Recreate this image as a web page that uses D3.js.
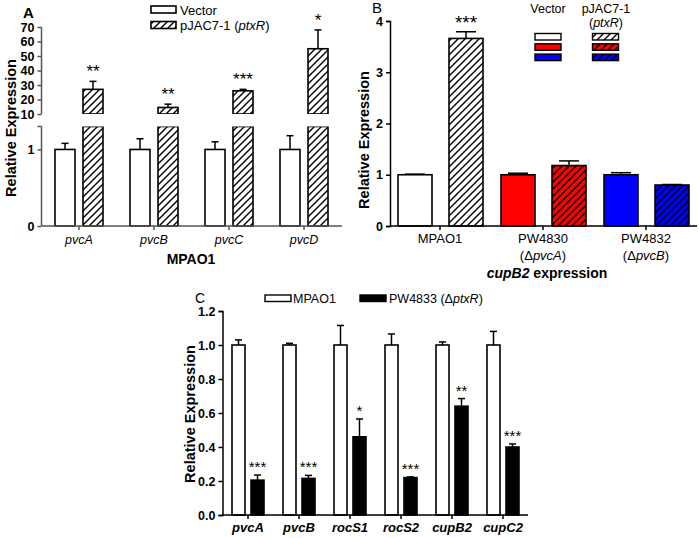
<!DOCTYPE html>
<html><head><meta charset="utf-8">
<script src="https://cdn.jsdelivr.net/npm/d3@7"></script>
<style>
body{margin:0;background:#fff;}
svg{display:block;font-family:"Liberation Sans",Arial,sans-serif;}
.tick text{font-weight:bold;font-size:12.5px;fill:#000;}
</style></head>
<body><svg id="c" width="699" height="538"></svg>
<script>
// ---------- Panel A data ----------
const catsA = ["pvcA","pvcB","pvcC","pvcD"];
const vectorA = [1,1,1,1];
const vectorErrA = [0.08,0.14,0.1,0.18];
const ptxRA = [27,14.5,26,55];
const ptxRErrA = [5.5,2.3,1,13];
const starsA = ["**","**","***","*"];
const ticksALow = [0,1];
const ticksAHigh = [10,20,30,40,50,60,70];
// ---------- Panel B data ----------
const catsB = ["MPAO1","PW4830","PW4832"];
const subB = ["","\u0394pvcA","\u0394pvcB"];
const vectorB = [1,1,1];
const vectorErrB = [0.012,0.03,0.04];
const ptxRB = [3.66,1.18,0.8];
const ptxRErrB = [0.13,0.09,0.01];
const starsB = ["***","",""];
const colorsB = ["#ffffff","#ff0000","#0000ff"];
const ticksB = [0,1,2,3,4];
// ---------- Panel C data ----------
const catsC = ["pvcA","pvcB","rocS1","rocS2","cupB2","cupC2"];
const mpaoC = [1,1,1,1,1,1];
const mpaoErrC = [0.03,0.01,0.115,0.065,0.018,0.08];
const ptxC = [0.205,0.215,0.46,0.22,0.64,0.40];
const ptxErrC = [0.03,0.018,0.105,0.004,0.045,0.018];
const starsC = ["***","***","*","***","**","***"];
const ticksC = [0,0.2,0.4,0.6,0.8,1.0,1.2];

const svg = d3.select("#c");
const defs = svg.append("defs");
function hatch(id, bg){
  const p = defs.append("pattern").attr("id",id).attr("patternUnits","userSpaceOnUse")
    .attr("width",7).attr("height",7);
  p.append("rect").attr("width",7).attr("height",7).attr("fill",bg);
  p.append("path").attr("d","M-1,1 L1,-1 M0,7 L7,0 M6,8 L8,6").attr("stroke","#000").attr("stroke-width",1.4);
}
hatch("hw","#fff"); hatch("h0","#ffffff"); hatch("h1","#ff0000"); hatch("h2","#0000ff");

function errBar(g, cx, y0, y1, cap, col){
  col = col||"#000";
  g.append("line").attr("x1",cx).attr("x2",cx).attr("y1",y0).attr("y2",y1).attr("stroke",col).attr("stroke-width",1.5);
  g.append("line").attr("x1",cx-cap/2).attr("x2",cx+cap/2).attr("y1",y1).attr("y2",y1).attr("stroke",col).attr("stroke-width",1.5);
}
function styleAxis(g,col){
  g.selectAll("path.domain").attr("stroke",col).attr("stroke-width",1.5);
  g.selectAll(".tick line").attr("stroke",col).attr("stroke-width",1.5);
}

// ================= PANEL A =================
(function(){
  const g = svg.append("g");
  const x = d3.scaleBand().domain(catsA).range([41.5,341.5]);
  const yL = d3.scaleLinear().domain([0,1.3]).range([226,126.5]);
  const yH = d3.scaleLinear().domain([10,70]).range([114,27]);
  const axCol = "#555";
  const bw = 20;
  catsA.forEach((c,i)=>{
    const cx = x(c)+x.bandwidth()/2;
    const vx = cx-24;
    errBar(g, vx+bw/2, yL(vectorA[i]), yL(vectorA[i]+vectorErrA[i]), 7);
    g.append("rect").attr("x",vx).attr("y",yL(vectorA[i])).attr("width",bw).attr("height",yL(0)-yL(vectorA[i]))
      .attr("fill","#fff").attr("stroke","#000").attr("stroke-width",1.6);
    const hx = cx+4;
    g.append("rect").attr("x",hx).attr("y",yL(1.3)).attr("width",bw).attr("height",yL(0)-yL(1.3))
      .attr("fill","url(#hw)").attr("stroke","#000").attr("stroke-width",1.6);
    errBar(g, hx+bw/2, yH(ptxRA[i]), yH(ptxRA[i]+ptxRErrA[i]), 7);
    g.append("rect").attr("x",hx).attr("y",yH(ptxRA[i])).attr("width",bw).attr("height",yH(10)-yH(ptxRA[i]))
      .attr("fill","url(#hw)").attr("stroke","#000").attr("stroke-width",1.6);
    g.append("rect").attr("x",hx-1).attr("y",yH(10)).attr("width",bw+2).attr("height",yL(1.3)-yH(10)).attr("fill","#fff");
    g.append("text").attr("x",hx+bw/2).attr("y",yH(ptxRA[i]+ptxRErrA[i])-4).attr("text-anchor","middle")
      .attr("font-size",17).text(starsA[i]);
    g.append("text").attr("x",cx).attr("y",244).attr("text-anchor","middle").attr("font-size",12.5)
      .attr("font-style","italic").text(c);
  });
  const axL = g.append("g").attr("transform","translate(41.5,0)").call(d3.axisLeft(yL).tickValues(ticksALow).tickSize(4).tickFormat(d3.format("d")));
  styleAxis(axL,axCol);
  axL.append("line").attr("x1",-4).attr("x2",0).attr("y1",yL(1.3)).attr("y2",yL(1.3)).attr("stroke",axCol).attr("stroke-width",1.5);
  axL.select("path.domain").attr("d",`M0,${yL(1.3)}V${yL(0)}`);
  const axH = g.append("g").attr("transform","translate(41.5,0)").call(d3.axisLeft(yH).tickValues(ticksAHigh).tickSize(4));
  styleAxis(axH,axCol);
  axH.select("path.domain").attr("d",`M0,${yH(70)}V${yH(10)}`);
  const axX = g.append("g").attr("transform","translate(0,226)").call(d3.axisBottom(x).tickSize(4).tickFormat(""));
  styleAxis(axX,axCol);
  axX.select("path.domain").attr("d","M41.5,0H342");
  g.append("text").attr("transform","translate(16,128) rotate(-90)").attr("text-anchor","middle")
    .attr("font-weight","bold").attr("font-size",14.5).text("Relative Expression");
  g.append("text").attr("x",191).attr("y",264).attr("text-anchor","middle").attr("font-weight","bold").attr("font-size",14).text("MPAO1");
  g.append("text").attr("x",23).attr("y",18).attr("font-weight","bold").attr("font-size",15).text("A");
  g.append("rect").attr("x",151).attr("y",6).attr("width",25).attr("height",7).attr("fill","#fff").attr("stroke","#000").attr("stroke-width",1.6);
  g.append("text").attr("x",180).attr("y",14.5).attr("font-size",13).text("Vector");
  g.append("rect").attr("x",151).attr("y",21.5).attr("width",25).attr("height",7).attr("fill","url(#hw)").attr("stroke","#000").attr("stroke-width",1.6);
  const t = g.append("text").attr("x",180).attr("y",30).attr("font-size",13);
  t.append("tspan").text("pJAC7-1 (");
  t.append("tspan").attr("font-style","italic").text("ptxR");
  t.append("tspan").text(")");
})();

// ================= PANEL B =================
(function(){
  const g = svg.append("g");
  const x = d3.scaleBand().domain(catsB).range([388.5,697.5]);
  const y = d3.scaleLinear().domain([0,4]).range([226,21]);
  const bw = 34;
  catsB.forEach((c,i)=>{
    const cx = x(c)+x.bandwidth()/2;
    const vx = cx-42, hx = cx+9;
    errBar(g, vx+bw/2, y(vectorB[i]), y(vectorB[i]+vectorErrB[i]), 20);
    g.append("rect").attr("x",vx).attr("y",y(vectorB[i])).attr("width",bw).attr("height",y(0)-y(vectorB[i]))
      .attr("fill",colorsB[i]).attr("stroke","#000").attr("stroke-width",1.6);
    errBar(g, hx+bw/2, y(ptxRB[i]), y(ptxRB[i]+ptxRErrB[i]), 20);
    g.append("rect").attr("x",hx).attr("y",y(ptxRB[i])).attr("width",bw).attr("height",y(0)-y(ptxRB[i]))
      .attr("fill",`url(#h${i})`).attr("stroke","#000").attr("stroke-width",1.6);
    if(starsB[i]) g.append("text").attr("x",hx+bw/2).attr("y",y(ptxRB[i]+ptxRErrB[i])-3).attr("text-anchor","middle")
      .attr("font-size",19).text(starsB[i]);
    g.append("text").attr("x",cx).attr("y",243).attr("text-anchor","middle").attr("font-size",13).text(c);
    if(subB[i]){
      const s = g.append("text").attr("x",cx).attr("y",260).attr("text-anchor","middle").attr("font-size",13);
      s.append("tspan").text("(\u0394");
      s.append("tspan").attr("font-style","italic").text(subB[i].slice(1));
      s.append("tspan").text(")");
    }
  });
  const ay = g.append("g").attr("transform","translate(390,0)").call(d3.axisLeft(y).tickValues(ticksB).tickSize(4).tickFormat(d3.format("d")));
  styleAxis(ay,"#000");
  const ax = g.append("g").attr("transform","translate(0,226)").call(d3.axisBottom(x).tickSize(4).tickFormat(""));
  styleAxis(ax,"#000");
  ax.select("path.domain").attr("d","M390,0H697");
  g.append("text").attr("transform","translate(369,140) rotate(-90)").attr("text-anchor","middle")
    .attr("font-weight","bold").attr("font-size",14.5).text("Relative Expression");
  const tt = g.append("text").attr("x",547).attr("y",278).attr("text-anchor","middle").attr("font-size",14);
  tt.append("tspan").attr("font-style","italic").attr("font-weight","bold").text("cupB2");
  tt.append("tspan").attr("font-weight","bold").text(" expression");
  g.append("text").attr("x",372).attr("y",13).attr("font-size",15).text("B");
  g.append("text").attr("x",548).attr("y",13).attr("text-anchor","middle").attr("font-size",12.5).text("Vector");
  g.append("text").attr("x",606).attr("y",13).attr("text-anchor","middle").attr("font-size",12.5).text("pJAC7-1");
  const lp = g.append("text").attr("x",606).attr("y",27).attr("text-anchor","middle").attr("font-size",12.5);
  lp.append("tspan").text("(");
  lp.append("tspan").attr("font-style","italic").text("ptxR");
  lp.append("tspan").text(")");
  colorsB.forEach((col,i)=>{
    const yy = 33.5+i*10.3;
    g.append("rect").attr("x",535).attr("y",yy).attr("width",26).attr("height",6.5).attr("fill",col).attr("stroke","#000").attr("stroke-width",1.4);
    g.append("rect").attr("x",592.5).attr("y",yy).attr("width",26).attr("height",6.5).attr("fill",`url(#h${i})`).attr("stroke","#000").attr("stroke-width",1.4);
  });
})();

// ================= PANEL C =================
(function(){
  const g = svg.append("g");
  const x = d3.scaleBand().domain(catsC).range([222.5,528.5]);
  const y = d3.scaleLinear().domain([0,1.2]).range([515,311]);
  const bw = 13;
  catsC.forEach((c,i)=>{
    const cx = x(c)+x.bandwidth()/2;
    const wx = cx-16, bx = cx+3;
    errBar(g, wx+bw/2, y(mpaoC[i]), y(mpaoC[i]+mpaoErrC[i]), 7);
    g.append("rect").attr("x",wx).attr("y",y(mpaoC[i])).attr("width",bw).attr("height",y(0)-y(mpaoC[i]))
      .attr("fill","#fff").attr("stroke","#000").attr("stroke-width",1.6);
    errBar(g, bx+bw/2, y(ptxC[i]), y(ptxC[i]+ptxErrC[i]), 7);
    g.append("rect").attr("x",bx).attr("y",y(ptxC[i])).attr("width",bw).attr("height",y(0)-y(ptxC[i]))
      .attr("fill","#000").attr("stroke","#000").attr("stroke-width",1.6);
    g.append("text").attr("x",bx+bw/2).attr("y",y(ptxC[i]+ptxErrC[i])-3).attr("text-anchor","middle")
      .attr("font-size",15).text(starsC[i]);
    g.append("text").attr("x",cx).attr("y",532).attr("text-anchor","middle").attr("font-size",13)
      .attr("font-style","italic").attr("font-weight","bold").text(c);
  });
  const ay = g.append("g").attr("transform","translate(222.5,0)").call(d3.axisLeft(y).tickValues(ticksC).tickSize(4).tickFormat(d3.format(".1f")));
  styleAxis(ay,"#000");
  ay.selectAll(".tick text").attr("font-size",13);
  const ax = g.append("g").attr("transform","translate(0,515)").call(d3.axisBottom(x).tickSize(4).tickFormat(""));
  styleAxis(ax,"#000");
  ax.select("path.domain").attr("d","M222.5,0H528");
  g.append("text").attr("transform","translate(195,414) rotate(-90)").attr("text-anchor","middle")
    .attr("font-weight","bold").attr("font-size",14.5).text("Relative Expression");
  g.append("text").attr("x",195).attr("y",303).attr("font-size",14).text("C");
  g.append("rect").attr("x",265).attr("y",295).attr("width",26).attr("height",6.5).attr("fill","#fff").attr("stroke","#000").attr("stroke-width",1.4);
  g.append("text").attr("x",293).attr("y",303).attr("font-size",12.5).text("MPAO1");
  g.append("rect").attr("x",360).attr("y",295).attr("width",26).attr("height",6.5).attr("fill","#000").attr("stroke","#000").attr("stroke-width",1.4);
  const lt = g.append("text").attr("x",389).attr("y",303).attr("font-size",12.5);
  lt.append("tspan").text("PW4833 (\u0394");
  lt.append("tspan").attr("font-style","italic").text("ptxR");
  lt.append("tspan").text(")");
})();
</script></body></html>
